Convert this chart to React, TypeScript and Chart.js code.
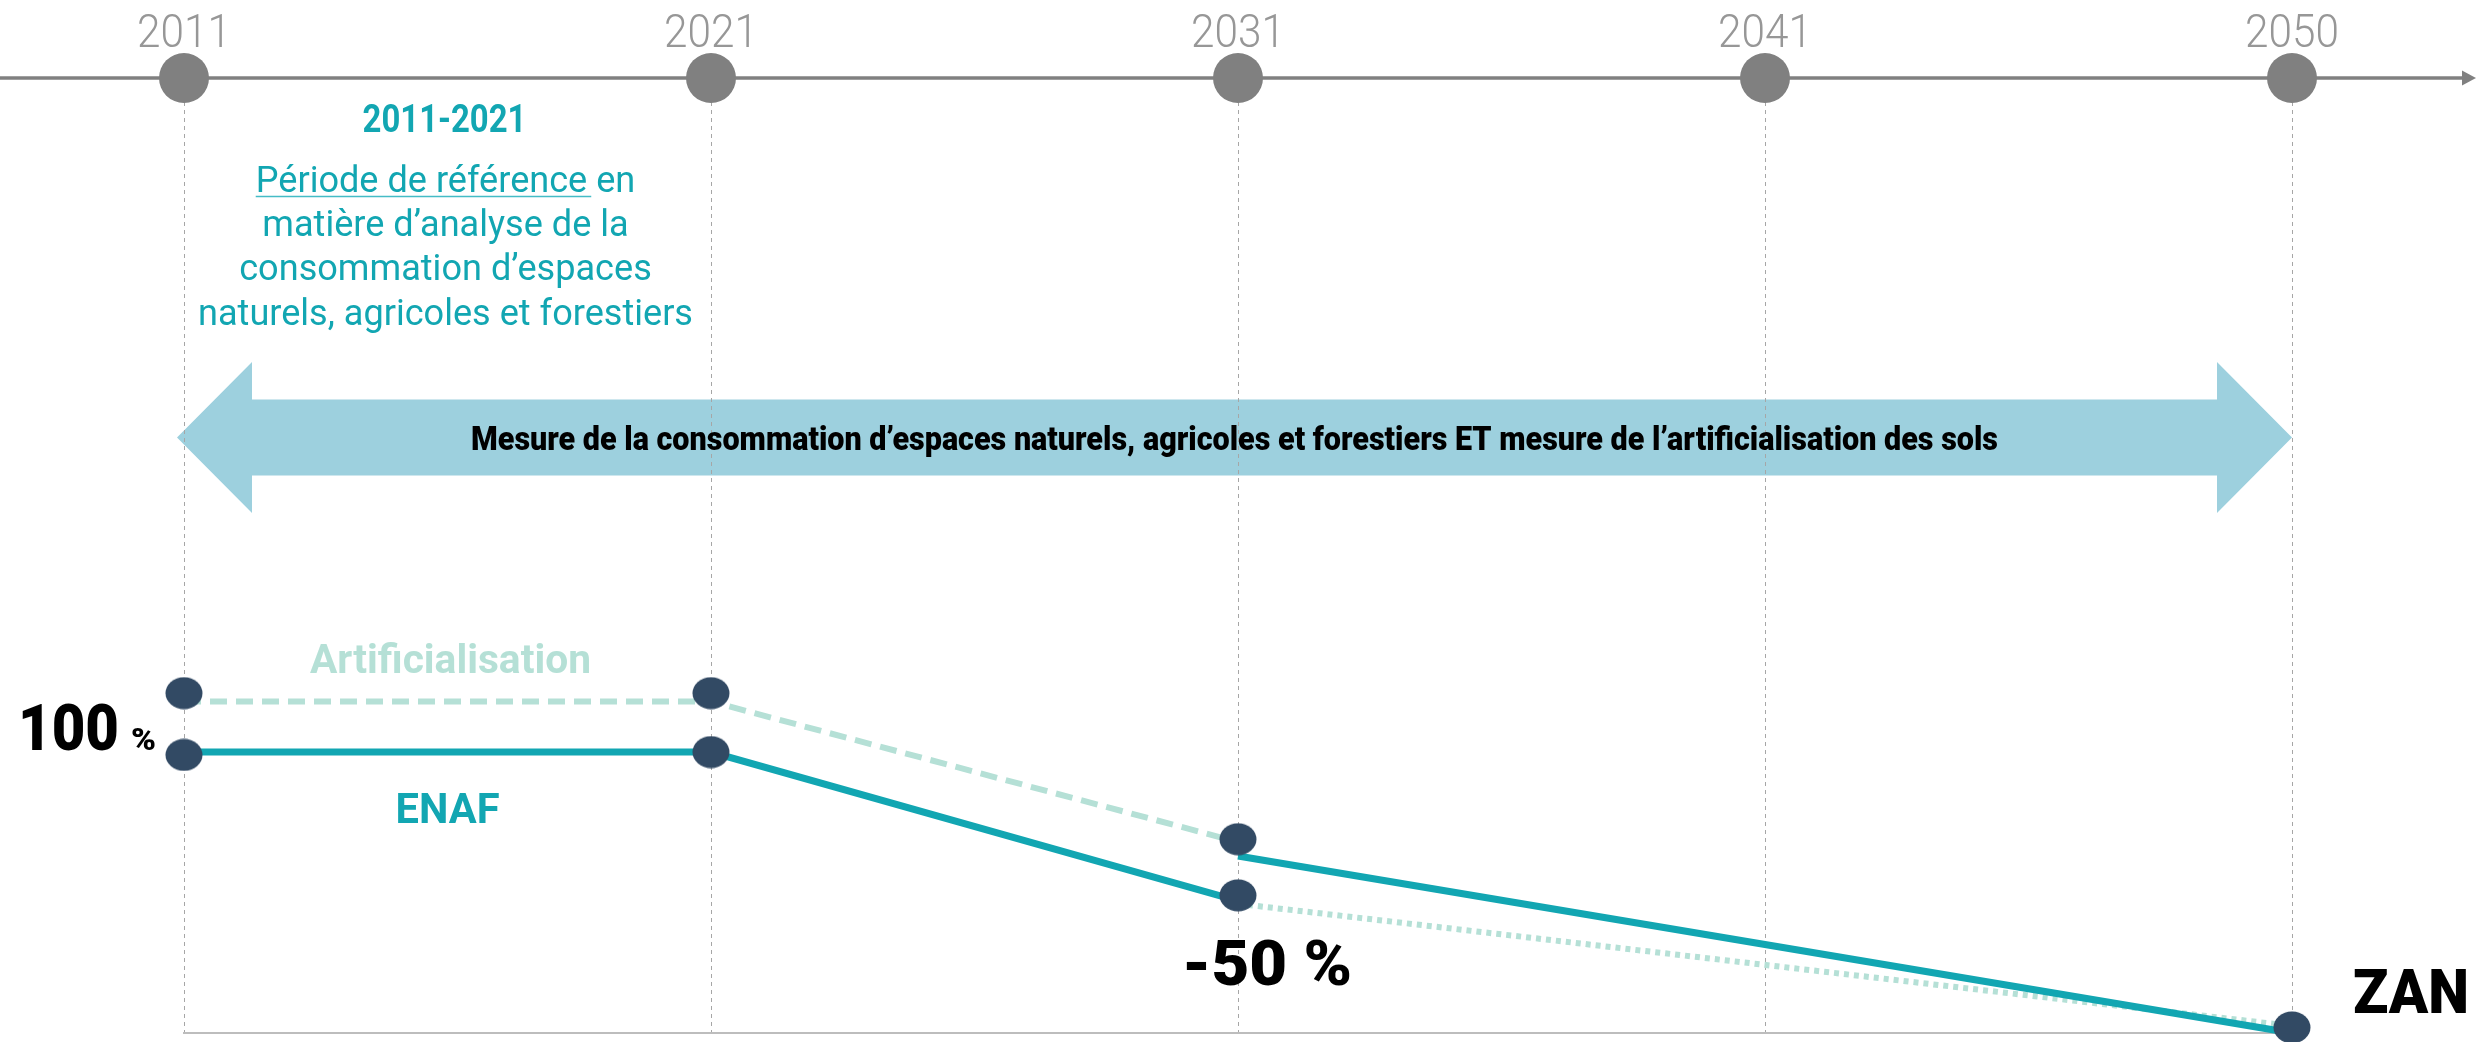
import React, { useEffect, useRef } from 'react';
import { Chart, registerables } from 'chart.js';

Chart.register(...registerables);

// ---- data ----
const years = ['2011', '2021', '2031', '2041', '2050'];
const Y_MAX = 340;
const timelineLevel = [340, 340, 340, 340, 340];
const artificialisationLine = [118, 118, 68, null, null];
const enafLine = [100, 100, 47, null, null];
const enafTail = [null, null, 63, null, 0];
const artificialisationTail = [null, null, 46, null, 2.5];
const artificialisationMarkers = [121, 121, 69, null, null];
const enafMarkers = [99, 100, 49, null, 2];

const periodLabel = '2011-2021';
const periodLines = [
  'Période de référence en',
  'matière d’analyse de la',
  'consommation d’espaces',
  'naturels, agricoles et forestiers',
];
const periodUnderlined = 'Période de référence';
const arrowText =
  'Mesure de la consommation d’espaces naturels, agricoles et forestiers ET mesure de l’artificialisation des sols';
const artLabel = 'Artificialisation';
const enafLabel = 'ENAF';
const startLabel = '100';
const startUnit = '%';
const midLabel = '-50 %';
const endLabel = 'ZAN';

// ---- styles ----
const TEAL = '#12a6b2';
const MINT = '#b5e0d6';
const NAVY = '#324a64';
const GREY = '#808080';
const ARROW = '#9dd0de';
const FONT = 'Roboto, "Liberation Sans", sans-serif';

type Align = 'left' | 'center';
function fitText(
  ctx: CanvasRenderingContext2D,
  text: string,
  x: number,
  y: number,
  font: string,
  color: string,
  opt: { width?: number; sx?: number; align?: Align }
) {
  ctx.save();
  ctx.font = font;
  const w = ctx.measureText(text).width;
  const sx = opt.sx ?? (opt.width ? opt.width / w : 1);
  const drawnW = w * sx;
  const left = opt.align === 'center' ? x - drawnW / 2 : x;
  ctx.fillStyle = color;
  ctx.textBaseline = 'alphabetic';
  ctx.textAlign = 'left';
  ctx.translate(left, y);
  ctx.scale(sx, 1);
  ctx.fillText(text, 0, 0);
  ctx.restore();
  return { left, width: drawnW, sx };
}

const decorPlugin = {
  id: 'decor',
  beforeDraw(chart: any) {
    const ctx: CanvasRenderingContext2D = chart.ctx;
    const xs = chart.scales.x;
    const ys = chart.scales.y;
    const W = chart.width;
    const yLine = ys.getPixelForValue(Y_MAX);
    ctx.save();
    // timeline
    ctx.strokeStyle = GREY;
    ctx.lineWidth = 3.5;
    ctx.beginPath();
    ctx.moveTo(0, yLine);
    ctx.lineTo(W - 12, yLine);
    ctx.stroke();
    ctx.fillStyle = GREY;
    ctx.beginPath();
    ctx.moveTo(W, yLine);
    ctx.lineTo(W - 14, yLine - 7.5);
    ctx.lineTo(W - 14, yLine + 7.5);
    ctx.closePath();
    ctx.fill();
    // big double arrow
    const left = xs.getPixelForTick(0) - 7;
    const right = xs.getPixelForTick(years.length - 1);
    const cy = 437.5;
    const headH = 75.5;
    const shaftH = 38;
    const headD = 75;
    ctx.fillStyle = ARROW;
    ctx.beginPath();
    ctx.moveTo(left, cy);
    ctx.lineTo(left + headD, cy - headH);
    ctx.lineTo(left + headD, cy - shaftH);
    ctx.lineTo(right - headD, cy - shaftH);
    ctx.lineTo(right - headD, cy - headH);
    ctx.lineTo(right, cy);
    ctx.lineTo(right - headD, cy + headH);
    ctx.lineTo(right - headD, cy + shaftH);
    ctx.lineTo(left + headD, cy + shaftH);
    ctx.lineTo(left + headD, cy + headH);
    ctx.closePath();
    ctx.fill();
    ctx.restore();
  },
  afterDraw(chart: any) {
    const ctx: CanvasRenderingContext2D = chart.ctx;
    const xs = chart.scales.x;
    const x0 = xs.getPixelForTick(0);
    const x1 = xs.getPixelForTick(1);
    const mid = (x0 + x1) / 2;

    // years on the timeline
    years.forEach((yr, i) => {
      fitText(ctx, yr, xs.getPixelForTick(i), 47, `300 46px ${FONT}`, '#979797', { sx: 0.92, align: 'center' });
    });

    // period block
    fitText(ctx, periodLabel, mid - 3, 132, `bold 39px ${FONT}`, TEAL, { width: 164, align: 'center' });
    ctx.save();
    ctx.font = `400 37px ${FONT}`;
    const longest = Math.max(...periodLines.map((l) => ctx.measureText(l).width));
    const underW = ctx.measureText(periodUnderlined).width;
    ctx.restore();
    const psx = 495 / longest;
    const baselines = [192, 236, 280, 325];
    periodLines.forEach((line, i) => {
      const r = fitText(ctx, line, mid - 2, baselines[i], `400 37px ${FONT}`, TEAL, { sx: psx, align: 'center' });
      if (i === 0) {
        ctx.save();
        ctx.strokeStyle = '#45bcc6';
        ctx.lineWidth = 1.5;
        ctx.beginPath();
        ctx.moveTo(r.left, 196.5);
        ctx.lineTo(r.left + underW * psx + 4, 196.5);
        ctx.stroke();
        ctx.restore();
      }
    });

    // arrow text
    fitText(ctx, arrowText, 471, 449.5, `900 33px ${FONT}`, '#000', { width: 1527 });

    // series labels
    fitText(ctx, artLabel, mid + 3, 673, `bold 41px ${FONT}`, MINT, { width: 281, align: 'center' });
    fitText(ctx, enafLabel, mid, 823, `bold 42px ${FONT}`, TEAL, { width: 104, align: 'center' });

    // value labels
    fitText(ctx, startLabel, 18, 750, `900 65px ${FONT}`, '#000', { width: 101 });
    fitText(ctx, startUnit, 131, 750, `900 31px ${FONT}`, '#000', { width: 25 });
    fitText(ctx, midLabel, 1182, 985, `900 63px ${FONT}`, '#000', { width: 170 });
    fitText(ctx, endLabel, 2353, 1013, `900 62px ${FONT}`, '#000', { width: 116 });
  },
};

export default function App() {
  const ref = useRef<HTMLCanvasElement>(null);
  useEffect(() => {
    const canvas = ref.current!;
    const marker = document.createElement('canvas');
    marker.width = 38;
    marker.height = 33;
    const m = marker.getContext('2d')!;
    m.fillStyle = NAVY;
    m.beginPath();
    m.ellipse(19, 16.5, 18.5, 16, 0, 0, Math.PI * 2);
    m.fill();

    const chart = new Chart(canvas, {
      type: 'line',
      data: {
        labels: years,
        datasets: [
          {
            label: 'timeline',
            data: timelineLevel,
            showLine: false,
            pointRadius: 25,
            pointBackgroundColor: GREY,
            pointBorderWidth: 0,
            clip: false,
            order: 0,
          },
          {
            label: 'Artificialisation points',
            data: artificialisationMarkers,
            showLine: false,
            pointStyle: marker,
            pointRadius: 17,
            clip: false,
            order: 0,
          },
          {
            label: 'ENAF points',
            data: enafMarkers,
            showLine: false,
            pointStyle: marker,
            pointRadius: 17,
            clip: false,
            order: 0,
          },
          {
            label: 'ENAF',
            data: enafLine,
            borderColor: TEAL,
            borderWidth: 7,
            pointRadius: 0,
            clip: false,
            order: 2,
          },
          {
            label: 'Artificialisation',
            data: artificialisationLine,
            borderColor: MINT,
            borderWidth: 6,
            borderDash: [17, 9],
            pointRadius: 0,
            clip: false,
            order: 2,
          },
          {
            label: 'ENAF suite',
            data: enafTail,
            borderColor: TEAL,
            borderWidth: 7,
            pointRadius: 0,
            spanGaps: true,
            clip: false,
            order: 2,
          },
          {
            label: 'Artificialisation suite',
            data: artificialisationTail,
            borderColor: MINT,
            borderWidth: 6,
            borderDash: [5, 5],
            pointRadius: 0,
            spanGaps: true,
            clip: false,
            order: 3,
          },
        ],
      },
      options: {
        animation: false,
        responsive: true,
        maintainAspectRatio: false,
        events: [],
        layout: { autoPadding: false, padding: { left: 184, right: 184, top: 78, bottom: 9 } },
        plugins: { legend: { display: false }, tooltip: { enabled: false } },
        scales: {
          x: {
            type: 'category',
            position: 'top',
            grid: { color: '#a6a6a6', lineWidth: 1, drawTicks: false },
            border: { display: false, dash: [4, 4] },
            ticks: { display: false },
          },
          xBase: {
            type: 'category',
            axis: 'x',
            position: 'bottom',
            labels: years,
            grid: { display: false, drawTicks: false },
            ticks: { display: false },
            border: { display: true, color: '#bdbdbd', width: 2 },
          },
          y: { display: false, min: 0, max: Y_MAX },
        },
      } as any,
      plugins: [decorPlugin],
    });
    return () => chart.destroy();
  }, []);
  return (
    <div style={{ position: 'fixed', left: 0, top: 0, width: '2476px', height: '1042px', background: '#fff' }}>
      <canvas ref={ref} />
    </div>
  );
}
